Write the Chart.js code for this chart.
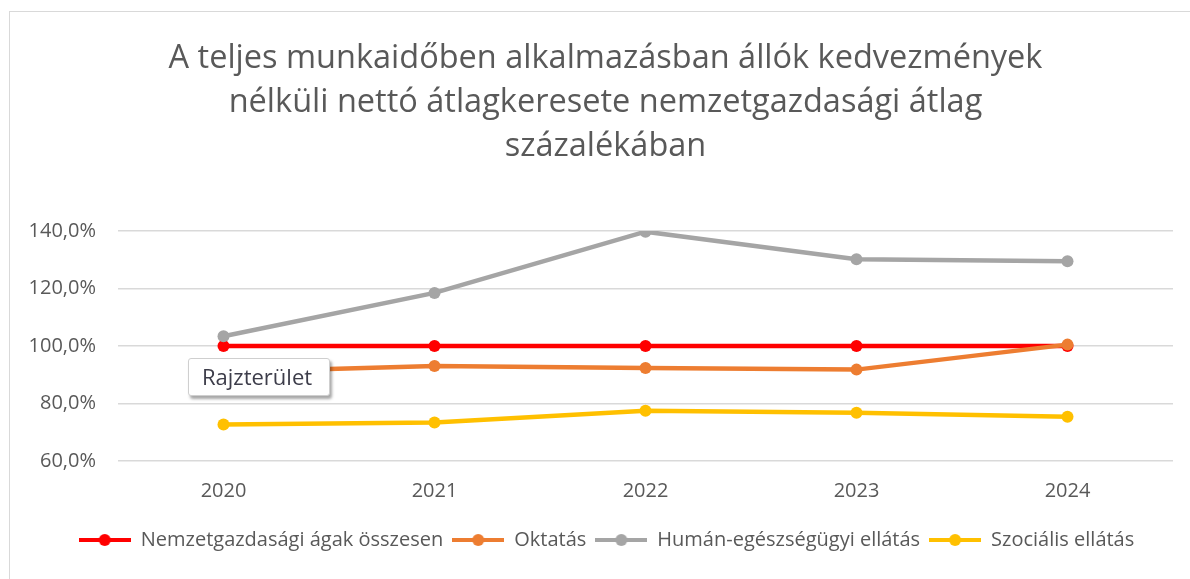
<!DOCTYPE html>
<html lang="hu">
<head>
<meta charset="utf-8">
<script src="https://cdn.jsdelivr.net/npm/chart.js@4.4.1/dist/chart.umd.min.js"></script>
<style>
  html, body { margin: 0; padding: 0; background: #fff; }
  #wrap { position: relative; width: 1190px; height: 579px; overflow: hidden; }
  #frame { position: absolute; left: 9px; top: 11px; width: 1200px; height: 600px; border: 1px solid #d9d9d9; box-sizing: border-box; pointer-events: none; }
  #tip {
    position: absolute; left: 188px; top: 358px; width: 142px; height: 38px; box-sizing: border-box;
    background: #fff; border: 1px solid #cfcfcf; border-radius: 3px;
    box-shadow: 2px 3px 3px rgba(0,0,0,0.35);
    font: 22px "Open Sans", sans-serif; color: #3d3d4a; line-height: 35px; padding-left: 13px;
  }
</style>
</head>
<body>
<div id="wrap">
  <canvas id="chart" width="1190" height="579"></canvas>
  <div id="frame"></div>
  <div id="tip">Rajzterület</div>
</div>
<script>
const years = ['2020', '2021', '2022', '2023', '2024'];
const seriesNames = ['Nemzetgazdasági ágak összesen', 'Oktatás', 'Humán-egészségügyi ellátás', 'Szociális ellátás'];
const seriesColors = ['#ff0000', '#ed7d31', '#a5a5a5', '#ffc000'];
const nemzetgazdasag = [100.0, 100.0, 100.0, 100.0, 100.0];
const oktatas        = [91.0, 93.1, 92.4, 91.8, 100.5];
const egeszsegugy    = [103.4, 118.5, 139.8, 130.2, 129.5];
const szocialis      = [72.7, 73.4, 77.5, 76.8, 75.4];
const yTicks = [60, 80, 100, 120, 140];

const TXT = '#595959';
const FONT = '"Open Sans", Lato, sans-serif';

function legendIcon(color) {
  const c = document.createElement('canvas');
  c.width = 52; c.height = 14;
  const g = c.getContext('2d');
  g.strokeStyle = color; g.lineWidth = 4;
  g.beginPath(); g.moveTo(0, 7); g.lineTo(52, 7); g.stroke();
  g.fillStyle = color;
  g.beginPath(); g.arc(26, 7, 6, 0, Math.PI * 2); g.fill();
  return c;
}

// title and legend are centred a bit right of the canvas centre in the original
const shiftBoxes = {
  id: 'shiftBoxes',
  afterLayout(chart) {
    chart.titleBlock.left += 38;
    chart.legend.left += 40;
  },
};

const allData = [nemzetgazdasag, oktatas, egeszsegugy, szocialis];
// later series drawn on top, like the original
const datasets = allData.map((d, i) => ({
  label: seriesNames[i],
  data: d,
  borderColor: seriesColors[i],
  backgroundColor: seriesColors[i],
  borderWidth: 4.5,
  pointRadius: 6,
  pointHoverRadius: 6,
  pointBorderWidth: 0,
  tension: 0,
  order: allData.length - i,
  pointStyle: 'circle',
}));

new Chart(document.getElementById('chart'), {
  type: 'line',
  data: { labels: years, datasets },
  plugins: [shiftBoxes],
  options: {
    responsive: false,
    animation: false,
    layout: { padding: { left: 0, right: 17, top: 37, bottom: 19 } },
    plugins: {
      tooltip: { enabled: false },
      title: {
        display: true,
        text: ['A teljes munkaidőben alkalmazásban állók kedvezmények',
               'nélküli nettó átlagkeresete nemzetgazdasági átlag',
               'százalékában'],
        color: TXT,
        font: { family: FONT, size: 32.5, weight: 'normal', lineHeight: 1.355 },
        padding: { top: 0, bottom: 62 },
      },
      legend: {
        position: 'bottom',
        labels: {
          color: TXT,
          font: { family: FONT, size: 20 },
          usePointStyle: true,
          pointStyleWidth: 52,
          boxHeight: 14,
          padding: 9,
          sort: (a, b) => a.datasetIndex - b.datasetIndex,
          generateLabels: chart => chart.data.datasets.map((ds, i) => ({
            text: ds.label,
            fillStyle: ds.borderColor,
            strokeStyle: ds.borderColor,
            lineWidth: 0,
            pointStyle: legendIcon(ds.borderColor),
            fontColor: TXT,
            hidden: false,
            datasetIndex: i,
          })),
        },
      },
    },
    scales: {
      x: {
        offset: true,
        grid: { display: false, drawTicks: false },
        border: { display: false },
        ticks: { color: TXT, font: { family: FONT, size: 20 }, padding: 18 },
      },
      y: {
        min: 60, max: 140,
        afterBuildTicks: s => { s.ticks = yTicks.map(v => ({ value: v })); },
        afterFit: s => { s.width = 118; },
        grid: { color: '#d9d9d9', lineWidth: 1.5, drawTicks: false },
        border: { display: false },
        ticks: {
          color: TXT, font: { family: FONT, size: 20 }, padding: 22,
          callback: v => v.toFixed(1).replace('.', ',') + '%',
        },
      },
    },
  },
});
</script>
</body>
</html>
